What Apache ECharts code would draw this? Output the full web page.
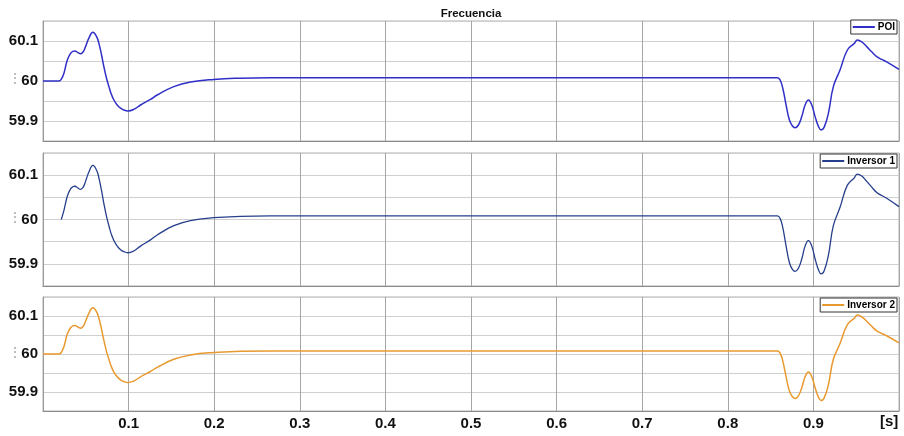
<!DOCTYPE html>
<html>
<head>
<meta charset="utf-8">
<title>Frecuencia</title>
<script src="https://cdn.jsdelivr.net/npm/echarts@6/dist/echarts.min.js"></script>
<style>
  html, body { margin: 0; padding: 0; background: #fff; }
  #chart { width: 904px; height: 436px; }
</style>
</head>
<body>
<div id="chart"></div>
<script>
// Time base in seconds
const tiempo = [0, 0.0186, 0.0213, 0.0244, 0.0284, 0.0322, 0.0349, 0.0373, 0.0408, 0.0439, 0.047, 0.0497,
  0.0536, 0.0583, 0.0626, 0.0653, 0.0684, 0.0711, 0.0742, 0.0770, 0.0797, 0.0828, 0.0867, 0.0906, 0.0945,
  0.0991, 0.1061, 0.1139, 0.1256, 0.1334, 0.1528, 0.1723, 0.1995, 0.2307, 0.2657,
  0.858, 0.8611, 0.8642, 0.8681, 0.872, 0.8755, 0.8786, 0.8825, 0.8864, 0.8903, 0.8942, 0.8981, 0.902,
  0.906, 0.909, 0.9125, 0.9175, 0.9233, 0.9311, 0.9397, 0.9478, 0.9513, 0.9565, 0.9623, 0.9681, 0.974,
  0.9798, 0.9856, 1.0];

// Frequency at the point of interconnection [Hz]
const poi = [60, 60, 60.004, 60.019, 60.0525, 60.069, 60.074, 60.075, 60.071, 60.068, 60.073, 60.086,
  60.107, 60.122, 60.111, 60.094, 60.065, 60.036, 60.007, 59.986, 59.9675, 59.9525, 59.94, 59.932, 59.9275,
  59.925, 59.929, 59.94, 59.954, 59.965, 59.986, 59.9975, 60.004, 60.007, 60.008,
  60.008, 60.0025, 59.982, 59.94, 59.9025, 59.8875, 59.883, 59.89, 59.911, 59.94, 59.9525, 59.94, 59.911,
  59.886, 59.8775, 59.884, 59.919, 59.986, 60.0275, 60.0775, 60.094, 60.1025, 60.098, 60.086, 60.073, 60.061,
  60.054, 60.048, 60.029];

// Inverter 1 (recorded from t = 0.0213 s)
const tiempoInv1 = [0.0213, 0.0244, 0.0284, 0.0322, 0.0349, 0.0373, 0.0408, 0.0439, 0.047, 0.0497,
  0.0536, 0.0583, 0.0626, 0.0653, 0.0684, 0.0711, 0.0742, 0.0770, 0.0797, 0.0828, 0.0867, 0.0906, 0.0945,
  0.0991, 0.1061, 0.1139, 0.1256, 0.1334, 0.1528, 0.1723, 0.1995, 0.2307, 0.2657,
  0.858, 0.8611, 0.8642, 0.8681, 0.872, 0.8755, 0.8786, 0.8825, 0.8864, 0.8903, 0.8942, 0.8981, 0.902,
  0.906, 0.909, 0.9125, 0.9175, 0.9233, 0.9311, 0.9397, 0.9478, 0.9513, 0.9565, 0.9623, 0.9681, 0.974,
  0.9798, 0.9856, 1.0];
const inversor1 = [60, 60.02, 60.0525, 60.069, 60.074, 60.075, 60.071, 60.068, 60.073, 60.086,
  60.107, 60.122, 60.111, 60.094, 60.065, 60.036, 60.007, 59.986, 59.9675, 59.9525, 59.94, 59.932, 59.9275,
  59.925, 59.929, 59.94, 59.954, 59.965, 59.986, 59.9975, 60.004, 60.007, 60.008,
  60.008, 60.0025, 59.982, 59.94, 59.9025, 59.8875, 59.883, 59.89, 59.911, 59.94, 59.9525, 59.94, 59.911,
  59.886, 59.8775, 59.884, 59.919, 59.986, 60.0275, 60.0775, 60.094, 60.1025, 60.098, 60.086, 60.073, 60.061,
  60.054, 60.048, 60.029];

// Inverter 2
const inversor2 = [60, 60, 60.004, 60.019, 60.0525, 60.069, 60.074, 60.075, 60.071, 60.068, 60.073, 60.086,
  60.107, 60.122, 60.111, 60.094, 60.065, 60.036, 60.007, 59.986, 59.9675, 59.9525, 59.94, 59.932, 59.9275,
  59.925, 59.929, 59.94, 59.954, 59.965, 59.986, 59.9975, 60.004, 60.007, 60.008,
  60.008, 60.0025, 59.982, 59.94, 59.9025, 59.8875, 59.883, 59.89, 59.911, 59.94, 59.9525, 59.94, 59.911,
  59.886, 59.8775, 59.884, 59.919, 59.986, 60.0275, 60.0775, 60.094, 60.1025, 60.098, 60.086, 60.073, 60.061,
  60.054, 60.048, 60.029];

const xTicks = [0.1, 0.2, 0.3, 0.4, 0.5, 0.6, 0.7, 0.8, 0.9];
const yTicks = ['59.9', '60', '60.1'];
const nombres = ['POI', 'Inversor 1', 'Inversor 2'];
const colores = ['#2f2fc8', '#263f8c', '#e8992f'];

const FONT = 'Liberation Sans, Arial, sans-serif';

const grids = [
  { left: 43, top: 21, width: 856, height: 120 },
  { left: 43, top: 153, width: 856, height: 133 },
  { left: 43, top: 297, width: 856, height: 114 }
];

function pares(t, v) { return t.map((x, i) => [x, v[i]]); }

const xAxes = grids.map((g, i) => ({
  type: 'value', gridIndex: i, min: 0, max: 1, interval: 0.1,
  axisLine: { show: true, lineStyle: { color: '#8a8a8a', width: 1 } },
  axisTick: { show: false },
  splitLine: { show: true, lineStyle: { color: '#a6a6a6', width: 1 } },
  axisLabel: {
    show: i === 2, margin: 5, color: '#111', fontSize: 15, fontWeight: 'bold', fontFamily: FONT,
    showMinLabel: false, showMaxLabel: false,
    formatter: v => {
      const s = v.toFixed(1);
      return xTicks.some(t => t.toFixed(1) === s) ? s : '';
    }
  }
}));

const yAxes = grids.map((g, i) => ({
  type: 'value', gridIndex: i, min: 59.85, max: 60.15, interval: 0.05,
  axisLine: { show: true, lineStyle: { color: '#9a9a9a', width: 1 } },
  axisTick: { show: false },
  splitLine: { show: true, lineStyle: { color: '#cfcfcf', width: 1 } },
  axisLabel: {
    margin: 5, color: '#111', fontSize: 15, fontWeight: 'bold', fontFamily: FONT,
    formatter: v => {
      const k = Math.round(v * 100);
      if (k % 10 !== 0) return '';
      const s = String(k / 100);
      return yTicks.includes(s) ? s : '';
    }
  }
}));

const series = [
  { data: pares(tiempo, poi), width: 1.5 },
  { data: pares(tiempoInv1, inversor1), width: 1.3 },
  { data: pares(tiempo, inversor2), width: 1.5 }
].map((s, i) => ({
  name: nombres[i], type: 'line', xAxisIndex: i, yAxisIndex: i,
  data: s.data, smooth: 0.45, showSymbol: false, symbol: 'none',
  lineStyle: { color: colores[i], width: s.width },
  itemStyle: { color: colores[i] },
  animation: false
}));

const legendTops = [20, 154, 298];
const legends = grids.map((g, i) => ({
  data: [nombres[i]], right: 7, top: legendTops[i], orient: 'horizontal',
  icon: 'rect', itemWidth: 22, itemHeight: 2, itemGap: 0,
  padding: [2, 2, 2, 2],
  backgroundColor: '#fff', borderColor: '#333', borderWidth: 1,
  textStyle: { fontSize: 10, fontWeight: 'bold', color: '#000', fontFamily: FONT, padding: [0, 0, 0, -2] }
}));

const marcasY = [81, 220, 355].map(y => ({
  type: 'text', left: 9, top: y - 8,
  style: { text: '⋮', fill: '#9a9a9a', fontSize: 12, fontFamily: FONT }
}));

const option = {
  backgroundColor: '#fff',
  animation: false,
  title: {
    text: 'Frecuencia', left: 466, top: 3, textAlign: 'center',
    textStyle: { fontSize: 11.5, fontWeight: 'bold', color: '#111', fontFamily: FONT }
  },
  legend: legends,
  grid: grids.map(g => Object.assign({ show: true, borderColor: '#b0b0b0', borderWidth: 1, backgroundColor: '#fff', containLabel: false }, g)),
  xAxis: xAxes,
  yAxis: yAxes,
  series: series,
  graphic: [
    {
      type: 'text', left: 880, top: 414,
      style: { text: '[s]', fill: '#111', fontSize: 15, fontWeight: 'bold', fontFamily: FONT }
    }
  ].concat(marcasY)
};

const chart = echarts.init(document.getElementById('chart'), null, { renderer: 'canvas' });
chart.setOption(option);
</script>
</body>
</html>
